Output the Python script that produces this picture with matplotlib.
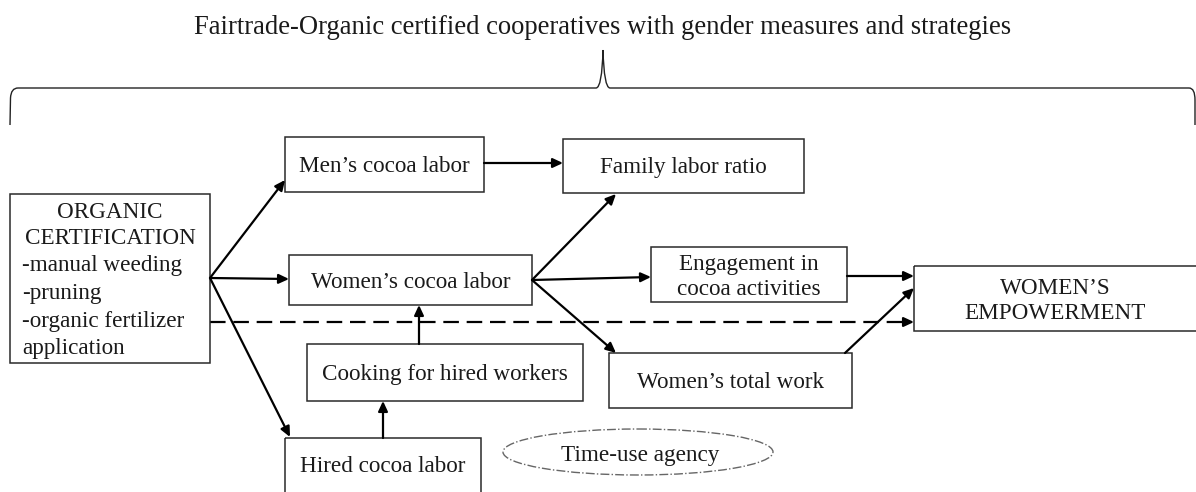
import matplotlib.pyplot as plt
from matplotlib.patches import Rectangle, Ellipse, PathPatch
from matplotlib.path import Path

plt.rcParams['font.family'] = ['Liberation Serif', 'DejaVu Serif']

title = 'Fairtrade-Organic certified cooperatives with gender measures and strategies'

# boxes: name -> label
box_names = ['org', 'men', 'family', 'women', 'engage', 'empower', 'cooking', 'total', 'hired']
box_labels = ['', 'Men\u2019s cocoa labor', 'Family labor ratio', 'Women\u2019s cocoa labor',
              'Engagement in\ncocoa activities', 'WOMEN\u2019S\nEMPOWERMENT',
              'Cooking for hired workers', 'Women\u2019s total work', 'Hired cocoa labor']
org_head = ['ORGANIC', 'CERTIFICATION']
org_items = ['-manual weeding', '-pruning', '-organic fertilizer', 'application']

# links between boxes (solid arrows) and the direct dashed one
links = [('org', 'men'), ('org', 'women'), ('org', 'hired'), ('men', 'family'),
         ('women', 'family'), ('women', 'engage'), ('women', 'total'),
         ('engage', 'empower'), ('total', 'empower'), ('cooking', 'women'),
         ('hired', 'cooking')]
dashed_link = ('org', 'empower')
ellipse_label = 'Time-use agency'

# layout in pixels (x0, y0, x1, y1), y downwards
box_pos = {
    'org': (10, 194, 210, 363),
    'men': (285, 137, 484, 192),
    'family': (563, 139, 804, 193),
    'women': (289, 255, 532, 305),
    'engage': (651, 247, 847, 302),
    'empower': (914, 266, 1205, 331),
    'cooking': (307, 344, 583, 401),
    'total': (609, 353, 852, 408),
    'hired': (285, 438, 481, 505),
}
label_center = {'empower': (1055, 301), 'engage': (749, 277), 'hired': (383, 466)}
link_pts = {
    ('org', 'men'): ((210, 278), (285, 180)),
    ('org', 'women'): ((210, 278), (289, 279)),
    ('org', 'hired'): ((210, 278), (290, 437)),
    ('men', 'family'): ((484, 163), (563, 163)),
    ('women', 'family'): ((532, 280), (616, 194)),
    ('women', 'engage'): ((532, 280), (651, 277)),
    ('women', 'total'): ((532, 280), (616, 353)),
    ('engage', 'empower'): ((847, 276), (914, 276)),
    ('total', 'empower'): ((845, 353), (914, 288)),
    ('cooking', 'women'): ((419, 344), (419, 305)),
    ('hired', 'cooking'): ((383, 438), (383, 401)),
}
dashed_pts = ((210, 322), (914, 322))

W, H = 1196, 492
fig = plt.figure(figsize=(W / 100, H / 100), dpi=100)
ax = fig.add_axes([0, 0, 1, 1])
ax.set_xlim(0, W)
ax.set_ylim(H, 0)
ax.axis('off')

txt_color = '#1a1a1a'
fs = 16.7

ax.text(603, 28, title, ha='center', va='center', fontsize=19.2, color=txt_color)

# curly brace under the title
verts = [(10, 125), (10.5, 98), (11, 88), (18, 88), (596, 88), (602, 88), (603, 50),
         (604, 88), (610, 88), (1189, 88), (1195, 88), (1195, 100), (1195, 125)]
codes = [Path.MOVETO, Path.LINETO, Path.CURVE3, Path.CURVE3, Path.LINETO, Path.CURVE3,
         Path.CURVE3, Path.CURVE3, Path.CURVE3, Path.LINETO, Path.CURVE3, Path.CURVE3,
         Path.LINETO]
ax.add_patch(PathPatch(Path(verts, codes), fill=False, lw=1.0, ec='#222222'))

for name, label in zip(box_names, box_labels):
    x0, y0, x1, y1 = box_pos[name]
    ax.add_patch(Rectangle((x0, y0), x1 - x0, y1 - y0, fill=False, lw=1.1,
                           ec='#2a2a2a', zorder=3))
    if label:
        cx, cy = label_center.get(name, ((x0 + x1) / 2, (y0 + y1) / 2 + 2))
        ax.text(cx, cy, label, ha='center', va='center', fontsize=fs,
                color=txt_color, linespacing=1.22, zorder=4)

# organic certification box text
ox0, oy0, ox1, oy1 = box_pos['org']
for i, s in enumerate(org_head):
    ax.text((ox0 + ox1) / 2, 212 + 27 * i, s, ha='center', va='center', fontsize=fs,
            color=txt_color)
for i, s in enumerate(org_items):
    ax.text(ox0 + 12, 266 + 27.5 * i, s, ha='left', va='center', fontsize=fs,
            color=txt_color)

arrow_style = '-|>,head_length=0.6,head_width=0.28'
for link in links:
    (sx, sy), (ex, ey) = link_pts[link]
    ax.annotate('', xy=(ex, ey), xytext=(sx, sy),
                arrowprops=dict(arrowstyle=arrow_style, lw=1.6, color='black',
                                shrinkA=0, shrinkB=0), zorder=5)

(sx, sy), (ex, ey) = dashed_pts
ax.plot([sx, ex - 8], [sy, ey], color='black', lw=1.6, dashes=(7, 3.5), zorder=2)
ax.annotate('', xy=(ex, ey), xytext=(ex - 9, ey),
            arrowprops=dict(arrowstyle=arrow_style, lw=1.6, color='black',
                            shrinkA=0, shrinkB=0), zorder=5)

ax.add_patch(Ellipse((638, 452), 270, 46, fill=False, lw=1.0, ec='#666666',
                     ls='-.', zorder=3))
ax.text(640, 456, ellipse_label, ha='center', va='center', fontsize=fs, color=txt_color)

fig.savefig('out.png', dpi=100, facecolor='white')
